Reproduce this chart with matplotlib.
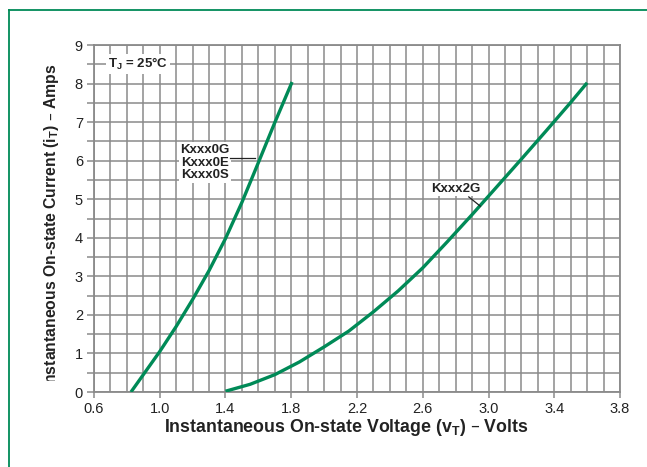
import matplotlib
matplotlib.use("Agg")
import matplotlib.pyplot as plt
from matplotlib.lines import Line2D
from matplotlib.transforms import Bbox
import numpy as np

plt.rcParams['font.family'] = ['Liberation Sans', 'DejaVu Sans']

# Kxxx0G / Kxxx0E / Kxxx0S curve
v_0g = [0.825, 0.90, 1.0, 1.1, 1.2, 1.3, 1.4, 1.5, 1.6, 1.7, 1.805]
i_0g = [0.0, 0.45, 1.05, 1.70, 2.40, 3.15, 3.98, 4.92, 5.95, 6.99, 8.04]

# Kxxx2G curve
v_2g = [1.40, 1.55, 1.70, 1.85, 2.00, 2.15, 2.30, 2.45, 2.60, 2.75, 2.90,
        3.05, 3.20, 3.35, 3.50, 3.60]
i_2g = [0.02, 0.20, 0.45, 0.78, 1.17, 1.58, 2.08, 2.62, 3.22, 3.90, 4.60,
        5.32, 6.04, 6.77, 7.51, 8.02]

xlabel = 'Instantaneous On-state Voltage (v$_\\mathregular{T}$) – Volts'
ylabel = 'Instantaneous On-state Current (i$_\\mathregular{T}$) – Amps'

green = '#008a57'
grid_c = '#8a8a8a'
W, H = 647, 467

fig = plt.figure(figsize=(6.47, 4.67), dpi=100)
ax = fig.add_axes([94 / W, 75 / H, 526 / W, 347 / H])

# page frame
fig.add_artist(Line2D([9 / W, 1], [1 - 10 / H, 1 - 10 / H], color=green, lw=1.3,
                      transform=fig.transFigure))
fig.add_artist(Line2D([9 / W, 9 / W], [0, 1 - 10 / H], color=green, lw=1.3,
                      transform=fig.transFigure))

for v, i in [(v_0g, i_0g), (v_2g, i_2g)]:
    ax.plot(v, i, color=green, lw=2.4, solid_capstyle='butt',
            solid_joinstyle='round', zorder=3)

ax.set_xlim(0.6, 3.8)
ax.set_ylim(0, 9)
ax.set_xticks(np.arange(0.6, 3.81, 0.4))
ax.set_xticklabels(['0.6', '1.0', '1.4', '1.8', '2.2', '2.6', '3.0', '3.4', '3.8'])
ax.set_xticks(np.arange(0.6, 3.81, 0.1), minor=True)
ax.set_yticks(range(10))
ax.set_yticks(np.arange(0, 9.01, 0.5), minor=True)
ax.grid(which='both', color=grid_c, lw=1.1)
ax.set_axisbelow(True)
for s in ax.spines.values():
    s.set_color(grid_c)
    s.set_linewidth(1.3)
ax.tick_params(which='major', axis='x', length=4, color=grid_c, width=1.1,
               labelsize=10.5, pad=3, labelcolor='#222222')
ax.tick_params(which='minor', axis='x', length=0)
ax.tick_params(which='both', axis='y', length=5, color=grid_c, width=1.1,
               labelsize=10.5, pad=3, labelcolor='#222222')
ax.tick_params(which='minor', axis='y', labelleft=False)

# axis titles placed as in the datasheet; the y title is cut at its lower end
xt = fig.text(346 / W, 1 - 428 / H, xlabel, fontsize=12, fontweight='bold',
              color='#222222', ha='center', va='center')
yt = fig.text(51.5 / W, 1 - 63 / H, ylabel, fontsize=12, fontweight='bold',
              color='#222222', ha='center', va='top', rotation=90)
r = fig.canvas.get_renderer()
xt.set_fontsize(12 * 364 / xt.get_window_extent(r).width)
yt.set_fontsize(12 * 323 / yt.get_window_extent(r).height)
yt.set_clip_box(Bbox.from_extents(0, H - 381, W, H))
yt.set_clip_on(True)

ax.text(0.87, 8.5, 'T$_\\mathregular{J}$ = 25°C', fontsize=9.5, fontweight='bold',
        ha='center', va='center', color='#222222',
        bbox=dict(facecolor='white', edgecolor='none', pad=1.5), zorder=4)

ax.text(1.275, 5.95, 'Kxxx0G\nKxxx0E\nKxxx0S', fontsize=9.5, fontweight='bold',
        ha='center', va='center', color='#222222', linespacing=1.1,
        bbox=dict(facecolor='white', edgecolor='none', pad=1.0), zorder=4)
ax.plot([1.425, 1.58], [6.08, 6.08], color='#222222', lw=0.9, zorder=4)

ax.text(2.80, 5.27, 'Kxxx2G', fontsize=9.5, fontweight='bold',
        ha='center', va='center', color='#222222',
        bbox=dict(facecolor='white', edgecolor='none', pad=1.0), zorder=4)
ax.plot([2.88, 2.95], [5.06, 4.82], color='#222222', lw=0.9, zorder=4)

fig.savefig('out.png', dpi=100)
